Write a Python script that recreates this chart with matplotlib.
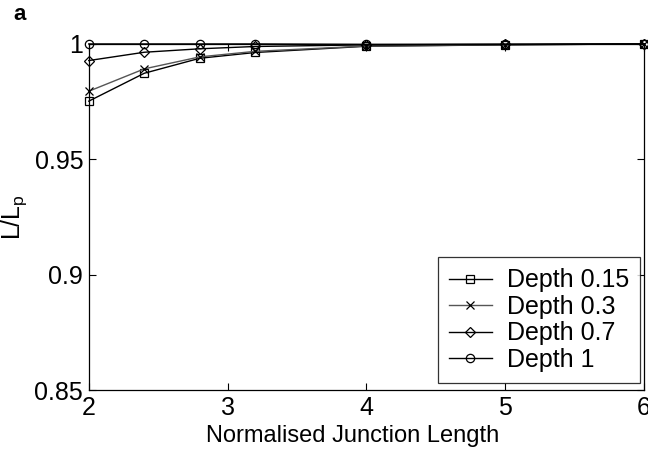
import matplotlib as mpl
mpl.use('Agg')
import matplotlib.pyplot as plt

# Normalised junction length against L/Lp for four depths
junction_len = [2, 2.4, 2.8, 3.2, 4, 5, 6]
depth_015 = [0.9752, 0.9873, 0.9938, 0.9963, 0.9990, 0.9996, 1.0]
depth_03 = [0.9795, 0.9892, 0.9944, 0.9968, 0.9991, 0.9996, 1.0]
depth_07 = [0.9928, 0.9964, 0.9979, 0.9989, 0.9996, 0.9998, 1.0]
depth_1 = [1.0, 1.0, 1.0, 1.0, 0.9998, 0.9999, 1.0]

labels = ['Depth 0.15', 'Depth 0.3', 'Depth 0.7', 'Depth 1']
markers = ['s', 'x', 'D', 'o']
sizes = [5.5, 5.5, 5.0, 6.0]
colors = ['black', '#555555', 'black', 'black']

plt.rcParams['font.family'] = ['Liberation Sans', 'DejaVu Sans']

fig = plt.figure(figsize=(6.48, 4.53), dpi=100)
ax = fig.add_axes([0.137, 0.139, 0.857, 0.764])

series = [depth_015, depth_03, depth_07, depth_1]
for vals, lab, mk, ms, col in zip(series, labels, markers, sizes, colors):
    ax.plot(junction_len, vals, color=col, lw=1.0, marker=mk,
            markersize=ms, markerfacecolor='none', markeredgecolor='black',
            markeredgewidth=0.9, label=lab, clip_on=False)

ax.set_xlim(2, 6)
ax.set_ylim(0.85, 1.0)
ax.set_xticks([2, 3, 4, 5, 6])
ax.set_yticks([0.85, 0.9, 0.95, 1.0])
ax.set_yticklabels(['0.85', '0.9', '0.95', '1'])
ax.tick_params(direction='in', labelsize=18, length=5, width=0.8,
               top=True, right=True)
ax.tick_params(axis='x', pad=4)
ax.tick_params(axis='y', pad=4)
for sp in ax.spines.values():
    sp.set_linewidth(0.9)

ax.set_xlabel('Normalised Junction Length', fontsize=17)
ax.xaxis.set_label_coords(0.476, -0.1, transform=ax.transAxes)
ax.xaxis.label.set_va('top')
ax.set_ylabel('L/L$_\\mathregular{p}$', fontsize=18, labelpad=4)

leg = ax.legend(loc='lower right', fontsize=18, frameon=True, fancybox=False,
                edgecolor='black', handlelength=1.7, borderpad=0.45,
                labelspacing=0.1, handletextpad=0.6, borderaxespad=0,
                bbox_to_anchor=(0.993, 0.02))
leg.get_frame().set_linewidth(0.9)

fig.text(0.02, 0.969, 'a', fontsize=16, fontweight='bold', va='center')

fig.savefig('out.png', dpi=100)
